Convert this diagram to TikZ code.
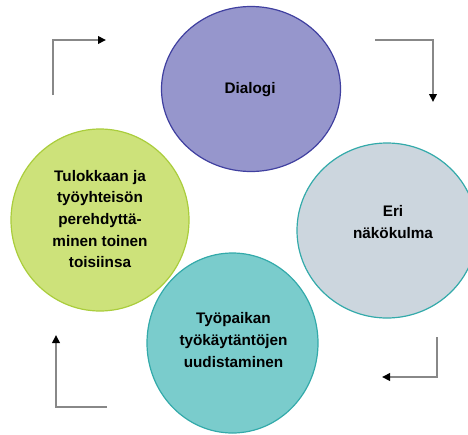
\documentclass[tikz,border=0pt]{standalone}
\usepackage{fontspec}
\setmainfont{Liberation Sans}
\usetikzlibrary{shapes.geometric,arrows.meta}

\definecolor{dlgfill}{RGB}{150,150,204}
\definecolor{dlgline}{RGB}{64,64,160}
\definecolor{limefill}{RGB}{205,226,122}
\definecolor{limeline}{RGB}{170,205,60}
\definecolor{greyfill}{RGB}{204,214,222}
\definecolor{tealfill}{RGB}{122,204,204}
\definecolor{tealline}{RGB}{51,170,170}
\definecolor{elbowgrey}{RGB}{136,136,136}

\tikzset{
  bubble/.style={ellipse, inner sep=0pt, line width=1.2pt},
  caption/.style={align=center, inner sep=0pt,
    font=\fontsize{15.3}{21.7}\selectfont\bfseries},
  elbow/.style={draw=elbowgrey, line width=2pt,
    -{Triangle[length=8pt,width=7.5pt,color=black]}}
}

\begin{document}
\begin{tikzpicture}[x=1pt,y=-1pt]
  \useasboundingbox (0,0) rectangle (468,434);

  % the four stages of the cycle
  \node[bubble, fill=dlgfill, draw=dlgline,
        minimum width=179pt, minimum height=165pt] (dialog) at (251,89) {};
  \node[bubble, fill=limefill, draw=limeline,
        minimum width=178pt, minimum height=182pt] (intro) at (100,220) {};
  \node[bubble, fill=greyfill, draw=tealline,
        minimum width=180pt, minimum height=175pt] (view) at (387,230.5) {};
  \node[bubble, fill=tealfill, draw=tealline,
        minimum width=171pt, minimum height=180pt] (renew) at (232.5,343) {};

  \node[caption] (dialogtxt) at (250,90) {Dialogi};
  \node[caption] (introtxt) at (100,219) {Tulokkaan ja\\työyhteisön\\perehdyttä-\\minen toinen\\toisiinsa};
  \node[caption] (viewtxt) at (393,222) {Eri\\näkökulma};
  \node[caption] (renewtxt) at (233.5,340) {Työpaikan\\työkäytäntöjen\\uudistaminen};

  % elbow arrows turning the cycle clockwise
  \coordinate (tlA) at (53,95);   \coordinate (tlB) at (53,40);   \coordinate (tlC) at (106,40);
  \coordinate (trA) at (375,40);  \coordinate (trB) at (433,40);  \coordinate (trC) at (433,102);
  \coordinate (brA) at (437,337); \coordinate (brB) at (437,377); \coordinate (brC) at (382,377);
  \coordinate (blA) at (107,407); \coordinate (blB) at (56,407);  \coordinate (blC) at (56,335);

  \draw[elbow] (tlA) -- (tlB) -- (tlC);
  \draw[elbow] (trA) -- (trB) -- (trC);
  \draw[elbow] (brA) -- (brB) -- (brC);
  \draw[elbow] (blA) -- (blB) -- (blC);
\end{tikzpicture}
\end{document}
